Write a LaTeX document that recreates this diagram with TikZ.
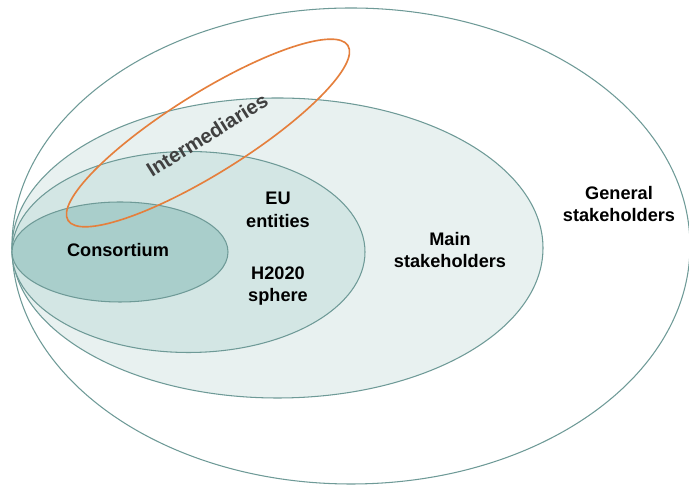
\documentclass[tikz,border=0pt]{standalone}
\usepackage{fontspec}
\setmainfont{Liberation Sans}
\usepackage{tikz}
\usetikzlibrary{positioning}

\definecolor{rimteal}{HTML}{6E9A97}
\definecolor{mainfill}{HTML}{E8F1F0}
\definecolor{spherefill}{HTML}{D3E6E4}
\definecolor{consfill}{HTML}{A9CECB}
\definecolor{intorange}{HTML}{E57F3C}
\definecolor{inttext}{HTML}{404040}

\begin{document}
\begin{tikzpicture}[x=0.03cm, y=0.03cm,
		ring/.style={draw=rimteal, line width=0.9pt},
		lbl/.style={font=\bfseries\fontsize{15.5}{19.5}\selectfont, align=center, inner sep=0pt}]
				\useasboundingbox (0,0) rectangle (689,486);
				
				% nested groups, all touching at the left
				\draw [ring, fill=white] (351,240) ellipse (339 and 238);
				\draw [ring, fill=mainfill] (277.5,238) ellipse (265.5 and 150);
				\draw [ring, fill=spherefill] (188.5,234) ellipse (176.5 and 100.5);
				\draw [ring, fill=consfill] (120,234) ellipse (108 and 50);
				
				% intermediaries cut across
				\draw [intorange, line width=1.4pt, rotate around={32:(208,353)}] (208,353) ellipse (165 and 40);
				
				\node [lbl] (general) at (619,282) {General\\stakeholders};
				\node [lbl] (main) at (450,236) {Main\\stakeholders};
				\node [lbl] (euent) at (278,276) {EU\\entities};
				\node [lbl] (h2020) at (278,200) {H2020\\sphere};
				\node [lbl] (cons) at (118,236) {Consortium};
				\node [lbl, font=\bfseries\fontsize{17.3}{20}\selectfont, text=inttext, rotate=32] (inter) at (207,351) {Intermediaries};
\end{tikzpicture}
\end{document}
